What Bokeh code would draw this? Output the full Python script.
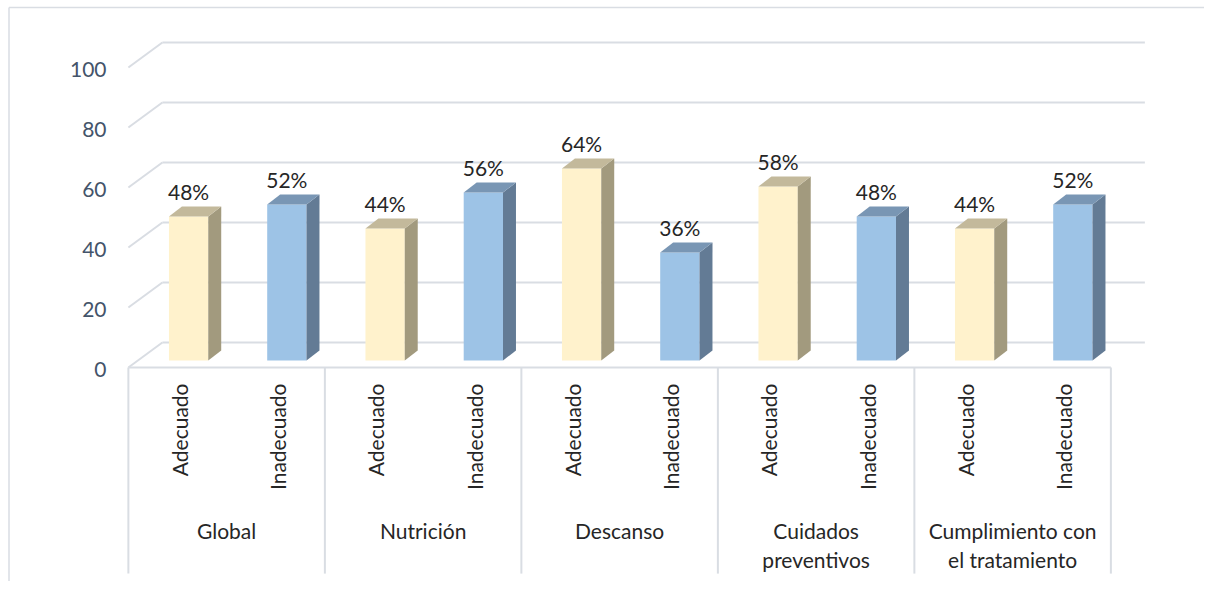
import math
from bokeh.plotting import figure
from bokeh.models import Range1d
from bokeh.embed import file_html
from bokeh.resources import INLINE
from bokeh.core.properties import value

# ---------------- data ----------------
groups = ["Global", "Nutrición", "Descanso", "Cuidados preventivos", "Cumplimiento con el tratamiento"]
group_lines = [["Global"], ["Nutrición"], ["Descanso"], ["Cuidados", "preventivos"], ["Cumplimiento con", "el tratamiento"]]
levels = ["Adecuado", "Inadecuado"]
adecuado = [48, 44, 64, 58, 44]
inadecuado = [52, 56, 36, 48, 52]
y_ticks = [0, 20, 40, 60, 80, 100]

# ---------------- styling / geometry ----------------
FONT = value("Lato")
FS = value("21px")
GRID = "#d9dde3"
FRONT = {"Adecuado": "#fff2cc", "Inadecuado": "#9dc3e6"}
SIDE = {"Adecuado": "#a29a7e", "Inadecuado": "#637b95"}
TOP = {"Adecuado": "#c3b99b", "Inadecuado": "#7996b4"}

BAR_OFF = 0.113     # depth shift of bars (x, category units)
BAR_LIFT = 2.33     # depth shift of bars (y, value units)
BAR_W = 0.40
SIDE_DX = 0.132
SIDE_DY = 3.33
BACK_DX = 0.346
BACK_DY = 8.33

PX_X = 98.25   # pixels per category unit
PX_Y = 3.0     # pixels per value unit
X0, X1 = -177 / PX_X, (1204 - 177) / PX_X
Y0, Y1 = (367 - 581) / PX_Y, 367 / PX_Y

p = figure(width=1204, height=581, output_backend="svg", toolbar_location=None,
           x_range=Range1d(X0, X1), y_range=Range1d(Y0, Y1),
           x_axis_type=None, y_axis_type=None, min_border=0)
p.grid.visible = False
p.outline_line_color = None
p.background_fill_color = "white"
p.border_fill_color = "white"

n = len(groups) * len(levels)
left_edge, right_edge = -0.5, n - 0.5

# outer chart border (left & top)
bx = X0 + 8.5 / PX_X
by = Y1 - 7.0 / PX_Y
p.segment(x0=[bx, bx], y0=[Y0, by], x1=[bx, X1], y1=[by, by], line_color=GRID, line_width=1.5)

# back wall gridlines + side wall diagonals
p.segment(x0=[left_edge + BACK_DX] * len(y_ticks), x1=[right_edge + BACK_DX] * len(y_ticks),
          y0=[t + BACK_DY for t in y_ticks], y1=[t + BACK_DY for t in y_ticks],
          line_color=GRID, line_width=2)
p.segment(x0=[left_edge] * len(y_ticks), x1=[left_edge + BACK_DX] * len(y_ticks),
          y0=y_ticks, y1=[t + BACK_DY for t in y_ticks], line_color=GRID, line_width=2)
# front floor line
p.segment(x0=[left_edge], x1=[right_edge], y0=[0], y1=[0], line_color=GRID, line_width=2)
# group dividers
divs = [left_edge + 2 * g for g in range(len(groups) + 1)]
p.segment(x0=divs, x1=divs, y0=[0] * len(divs), y1=[-68.7] * len(divs), line_color=GRID, line_width=2)

# bars
for k, lev in enumerate(levels):
    vals = adecuado if k == 0 else inadecuado
    xs_c = [2 * g + k + BAR_OFF for g in range(len(groups))]
    lefts = [x - BAR_W / 2 for x in xs_c]
    rights = [x + BAR_W / 2 for x in xs_c]
    bottoms = [BAR_LIFT] * len(vals)
    tops = [v + BAR_LIFT for v in vals]
    p.quad(left=lefts, right=rights, bottom=bottoms, top=tops, fill_color=FRONT[lev], line_color=None)
    side_xs = [[r, r + SIDE_DX, r + SIDE_DX, r] for r in rights]
    side_ys = [[b, b + SIDE_DY, t + SIDE_DY, t] for b, t in zip(bottoms, tops)]
    p.patches(xs=side_xs, ys=side_ys, fill_color=SIDE[lev], line_color=None)
    top_xs = [[l, r, r + SIDE_DX, l + SIDE_DX] for l, r in zip(lefts, rights)]
    top_ys = [[t, t, t + SIDE_DY, t + SIDE_DY] for t in tops]
    p.patches(xs=top_xs, ys=top_ys, fill_color=TOP[lev], line_color=None)
    # data labels
    p.text(x=xs_c, y=[t + SIDE_DY + 5.1 for t in tops], text=[f"{v}%" for v in vals],
           text_align="center", text_baseline="middle", text_font=FONT, text_font_size=FS,
           text_color="#262626")
    # rotated level labels
    p.text(x=[2 * g + k + 0.02 for g in range(len(groups))], y=[-5.33] * len(groups),
           text=[lev] * len(groups), angle=math.pi / 2, text_align="right", text_baseline="middle",
           text_font=FONT, text_font_size=FS, text_color="#262626")

# y tick labels
p.text(x=[(106 - 177) / PX_X] * len(y_ticks), y=[t - 0.7 for t in y_ticks], text=[str(t) for t in y_ticks],
       text_align="right", text_baseline="middle", text_font=FONT, text_font_size=FS, text_color="#44546a")

# group labels
gx, gy, gt = [], [], []
for g, lines in enumerate(group_lines):
    for j, line in enumerate(lines):
        gx.append(2 * g + 0.5)
        gy.append(-54.33 - j * 29 / PX_Y)
        gt.append(line)
p.text(x=gx, y=gy, text=gt, text_align="center", text_baseline="middle",
       text_font=FONT, text_font_size=FS, text_color="#262626")

open("out.html", "w").write(file_html(p, INLINE))
